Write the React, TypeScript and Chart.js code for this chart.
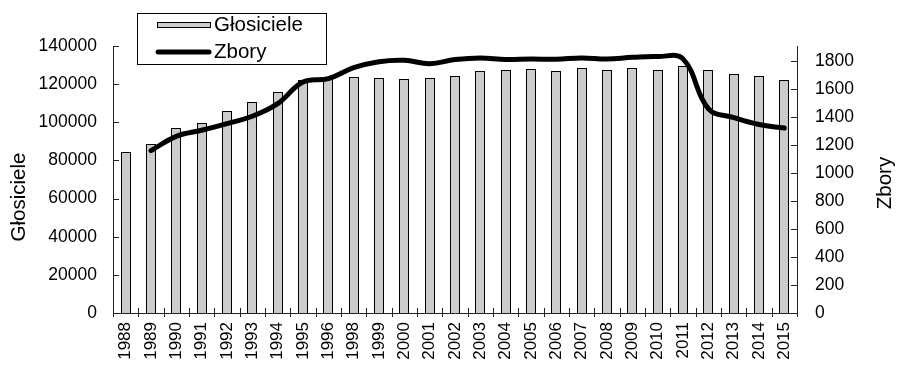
import React, { useEffect, useRef } from "react";
import { Chart, registerables } from "chart.js";

Chart.register(...registerables);

const years: string[] = [
  "1988", "1989", "1990", "1991", "1992", "1993", "1994", "1995", "1996",
  "1998", "1999", "2000", "2001", "2002", "2003", "2004", "2005", "2006",
  "2007", "2008", "2009", "2010", "2011", "2012", "2013", "2014", "2015",
];

const glosiciele: number[] = [
  84400, 88800, 97000, 99800, 105700, 110800, 115900, 122000, 123100,
  123700, 123200, 122700, 123000, 124400, 126700, 127400, 127900, 126900,
  128300, 127300, 128400, 127600, 129500, 127600, 125500, 124300, 122000,
];

const zbory: (number | null)[] = [
  null, 1160, 1262, 1305, 1353, 1405, 1495, 1650, 1674,
  1752, 1795, 1805, 1781, 1810, 1822, 1810, 1814, 1812,
  1822, 1814, 1826, 1832, 1815, 1460, 1396, 1346, 1321,
];

const leftTicks: number[] = [0, 20000, 40000, 60000, 80000, 100000, 120000, 140000];
const rightTicks: number[] = [0, 200, 400, 600, 800, 1000, 1200, 1400, 1600, 1800];
const rightMax = 1907;

const FONT = "'Liberation Sans', Arial, sans-serif";

const crispBars = {
  id: "crispBars",
  afterDatasetsUpdate(chart: any) {
    chart.data.datasets.forEach((ds: any, i: number) => {
      if (ds.type !== "bar") return;
      const meta = chart.getDatasetMeta(i);
      meta.data.forEach((el: any) => {
        const w = Math.round(el.width);
        el.width = w;
        el.x = Math.round(el.x - w / 2) + w / 2;
        el.y = Math.round(el.y);
        el.base = Math.round(el.base);
      });
    });
  },
};

const decorPlugin = {
  id: "decor",
  afterDraw(chart: any) {
    const { ctx, chartArea, scales } = chart;
    const { left, right, top, bottom } = chartArea;
    ctx.save();
    ctx.strokeStyle = "#222";
    ctx.lineWidth = 1;
    ctx.beginPath();
    ctx.moveTo(Math.round(left) + 0.5, top);
    ctx.lineTo(Math.round(left) + 0.5, bottom + 0.5);
    ctx.moveTo(Math.round(right) + 0.5, top);
    ctx.lineTo(Math.round(right) + 0.5, bottom + 0.5);
    ctx.moveTo(left, Math.round(bottom) + 0.5);
    ctx.lineTo(right + 1, Math.round(bottom) + 0.5);
    ctx.stroke();
    ctx.beginPath();
    for (const v of leftTicks) {
      const y = Math.round(scales.y.getPixelForValue(v)) + 0.5;
      ctx.moveTo(left, y);
      ctx.lineTo(left + 6, y);
    }
    for (const v of rightTicks) {
      const y = Math.round(scales.y1.getPixelForValue(v)) + 0.5;
      ctx.moveTo(right - 6, y);
      ctx.lineTo(right + 1, y);
    }
    const n = years.length;
    const w = (right - left) / n;
    for (let i = 0; i <= n; i++) {
      const x = Math.round(left + i * w) + 0.5;
      ctx.moveTo(x, bottom - 5);
      ctx.lineTo(x, bottom + 4);
    }
    ctx.stroke();

    ctx.fillStyle = "#000";
    ctx.font = `20.5px ${FONT}`;
    ctx.textAlign = "center";
    ctx.textBaseline = "middle";
    ctx.save();
    ctx.translate(19, 197);
    ctx.rotate(-Math.PI / 2);
    ctx.fillText("Głosiciele", 0, 0);
    ctx.restore();
    ctx.save();
    ctx.translate(885, 183);
    ctx.rotate(-Math.PI / 2);
    ctx.fillText("Zbory", 0, 0);
    ctx.restore();

    ctx.fillStyle = "#fff";
    ctx.fillRect(137, 13, 189, 51);
    ctx.strokeStyle = "#000";
    ctx.strokeRect(137.5, 13.5, 189, 51);
    ctx.fillStyle = "#cccccc";
    ctx.fillRect(157, 22, 53, 5);
    ctx.strokeRect(157.5, 22.5, 53, 5);
    ctx.beginPath();
    ctx.lineWidth = 5;
    ctx.lineCap = "round";
    ctx.moveTo(158, 52);
    ctx.lineTo(209, 52);
    ctx.stroke();
    ctx.fillStyle = "#000";
    ctx.textAlign = "left";
    ctx.fillText("Głosiciele", 214, 25);
    ctx.fillText("Zbory", 214, 52);
    ctx.restore();
  },
};

export default function App() {
  const ref = useRef<HTMLCanvasElement | null>(null);
  useEffect(() => {
    document.body.style.margin = "0";
    if (!ref.current) return;
    const tickFont = { family: FONT, size: 17.5 };
    const plain = (v: any) => String(v);
    const chart = new Chart(ref.current, {
      type: "bar",
      data: {
        labels: years,
        datasets: [
          {
            type: "line",
            label: "Zbory",
            data: zbory,
            yAxisID: "y1",
            borderColor: "#000",
            borderWidth: 5,
            pointRadius: 0,
            tension: 0.4,
            borderCapStyle: "round",
            order: 0,
          } as any,
          {
            type: "bar",
            label: "Głosiciele",
            data: glosiciele,
            yAxisID: "y",
            backgroundColor: "#cccccc",
            borderColor: "#000",
            borderWidth: 1,
            barPercentage: 0.4,
            categoryPercentage: 1,
            order: 1,
          },
        ],
      },
      options: {
        animation: false,
        responsive: false,
        maintainAspectRatio: false,
        layout: { padding: { top: 46, left: 0, right: 0, bottom: 0 } },
        plugins: { legend: { display: false }, tooltip: { enabled: false } },
        scales: {
          x: {
            grid: { display: false, drawTicks: false },
            border: { display: false },
            ticks: {
              font: { family: FONT, size: 17 },
              color: "#000",
              maxRotation: 90,
              minRotation: 90,
              autoSkip: false,
              padding: 9,
            },
            afterFit: (s: any) => {
              s.height = 52;
            },
          },
          y: {
            position: "left",
            min: 0,
            max: leftTicks[leftTicks.length - 1],
            grid: { display: false, drawTicks: false },
            border: { display: false },
            ticks: { font: tickFont, color: "#000", padding: 16, callback: plain },
            afterBuildTicks: (s: any) => {
              s.ticks = leftTicks.map((v) => ({ value: v }));
            },
            afterFit: (s: any) => {
              s.width = 113;
            },
          },
          y1: {
            position: "right",
            min: 0,
            max: rightMax,
            grid: { display: false, drawTicks: false },
            border: { display: false },
            ticks: { font: tickFont, color: "#000", padding: 18, callback: plain },
            afterBuildTicks: (s: any) => {
              s.ticks = rightTicks.map((v) => ({ value: v }));
            },
            afterFit: (s: any) => {
              s.width = 101;
            },
          },
        },
      },
      plugins: [crispBars, decorPlugin],
    });
    return () => chart.destroy();
  }, []);
  return (
    <div style={{ width: 898, height: 365 }}>
      <canvas ref={ref} width={898} height={365} style={{ display: "block" }} />
    </div>
  );
}
